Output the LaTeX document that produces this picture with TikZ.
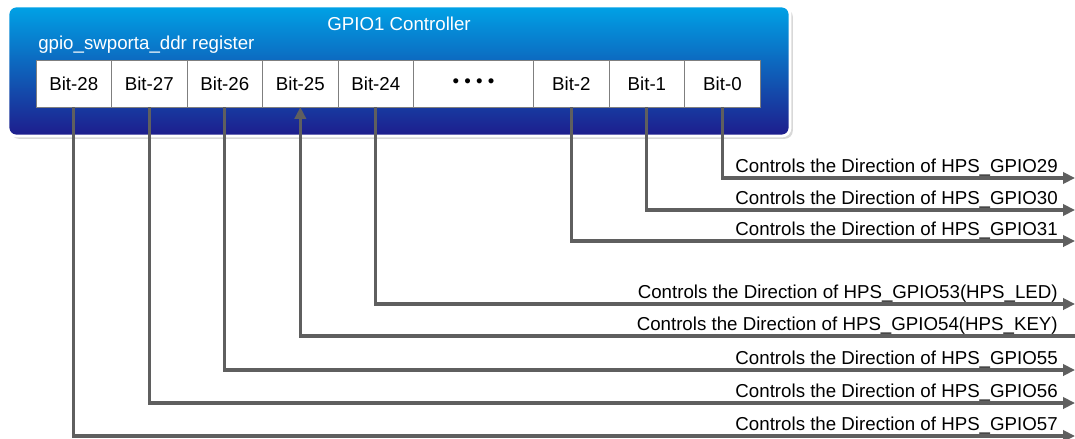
\documentclass[tikz,border=0pt]{standalone}
\usepackage{fontspec}
\setmainfont{Liberation Sans}
\usepackage{tikz}
\usetikzlibrary{arrows.meta,positioning,shadows}
\definecolor{ctrltop}{RGB}{0,162,230}
\definecolor{ctrlbot}{RGB}{30,28,140}
\definecolor{wiregray}{RGB}{95,95,95}
\tikzset{
  bitcell/.style={draw=wiregray!80, fill=white, minimum width=1.8875cm,
    minimum height=1.175cm, inner sep=0pt, outer sep=0pt,
    font=\fontsize{13.3}{16}\selectfont},
  wire/.style={draw=wiregray, line width=2.2pt},
  wireout/.style={wire, -{Triangle[length=8.5pt,width=8pt]}},
  wirein/.style={wire, {Triangle[length=8.5pt,width=8pt]}-},
  dirlabel/.style={anchor=base east, inner sep=0pt, font=\fontsize{13.3}{16}\selectfont}
}

\begin{document}
\begin{tikzpicture}[x=0.025cm, y=-0.025cm]
  \useasboundingbox (0,0) rectangle (1075,439);

  % === GPIO1 CONTROLLER BOX ===
  \path[draw=white, line width=2pt, rounded corners=0.2cm,
    top color=ctrltop, bottom color=ctrlbot,
    drop shadow={shadow xshift=2pt, shadow yshift=-2pt, fill=black!30, opacity=0.5}]
    (8,6) rectangle (790,136);
  \node[text=white, anchor=base, inner sep=0pt, font=\fontsize{13.3}{16}\selectfont]
    (title) at (399,31) {GPIO1 Controller};
  \node[text=white, anchor=base west, inner sep=0pt, font=\fontsize{13.3}{16}\selectfont]
    (regname) at (38,50) {gpio\_swporta\_ddr register};

  % Register bits
  \node[bitcell, anchor=west] (b28) at (36,83.5) {Bit-28};
  \node[bitcell, right=0pt of b28] (b27) {Bit-27};
  \node[bitcell, right=0pt of b27] (b26) {Bit-26};
  \node[bitcell, right=0pt of b26] (b25) {Bit-25};
  \node[bitcell, right=0pt of b25] (b24) {Bit-24};
  \node[bitcell, right=0pt of b24, minimum width=3cm] (dots)
    {\textbullet\ \textbullet\ \textbullet\ \textbullet};
  \node[bitcell, right=0pt of dots] (b2) {Bit-2};
  \node[bitcell, right=0pt of b2] (b1) {Bit-1};
  \node[bitcell, right=0pt of b1] (b0) {Bit-0};

  % === OUTPUT ENDS ===
  \coordinate (o29) at (1075,178);
  \coordinate (o30) at (1075,210);
  \coordinate (o31) at (1075,241);
  \coordinate (o53) at (1075,304);
  \coordinate (o54) at (1075,336);
  \coordinate (o55) at (1075,370);
  \coordinate (o56) at (1075,403);
  \coordinate (o57) at (1075,436);

  % Wires from bits
  \draw[wireout] (b0.south) |- (o29);
  \draw[wireout] (b1.south) |- (o30);
  \draw[wireout] (b2.south) |- (o31);
  \draw[wireout] (b24.south) |- (o53);
  \draw[wirein] (b25.south) |- (o54);
  \draw[wireout] (b26.south) |- (o55);
  \draw[wireout] (b27.south) |- (o56);
  \draw[wireout] (b28.south) |- (o57);

  % Labels
  \node[dirlabel] (l29) at (1058,172) {Controls the Direction of HPS\_GPIO29};
  \node[dirlabel] (l30) at (1058,204) {Controls the Direction of HPS\_GPIO30};
  \node[dirlabel] (l31) at (1058,235) {Controls the Direction of HPS\_GPIO31};
  \node[dirlabel] (l53) at (1058,298) {Controls the Direction of HPS\_GPIO53(HPS\_LED)};
  \node[dirlabel] (l54) at (1058,330) {Controls the Direction of HPS\_GPIO54(HPS\_KEY)};
  \node[dirlabel] (l55) at (1058,364) {Controls the Direction of HPS\_GPIO55};
  \node[dirlabel] (l56) at (1058,397) {Controls the Direction of HPS\_GPIO56};
  \node[dirlabel] (l57) at (1058,430) {Controls the Direction of HPS\_GPIO57};
\end{tikzpicture}
\end{document}
